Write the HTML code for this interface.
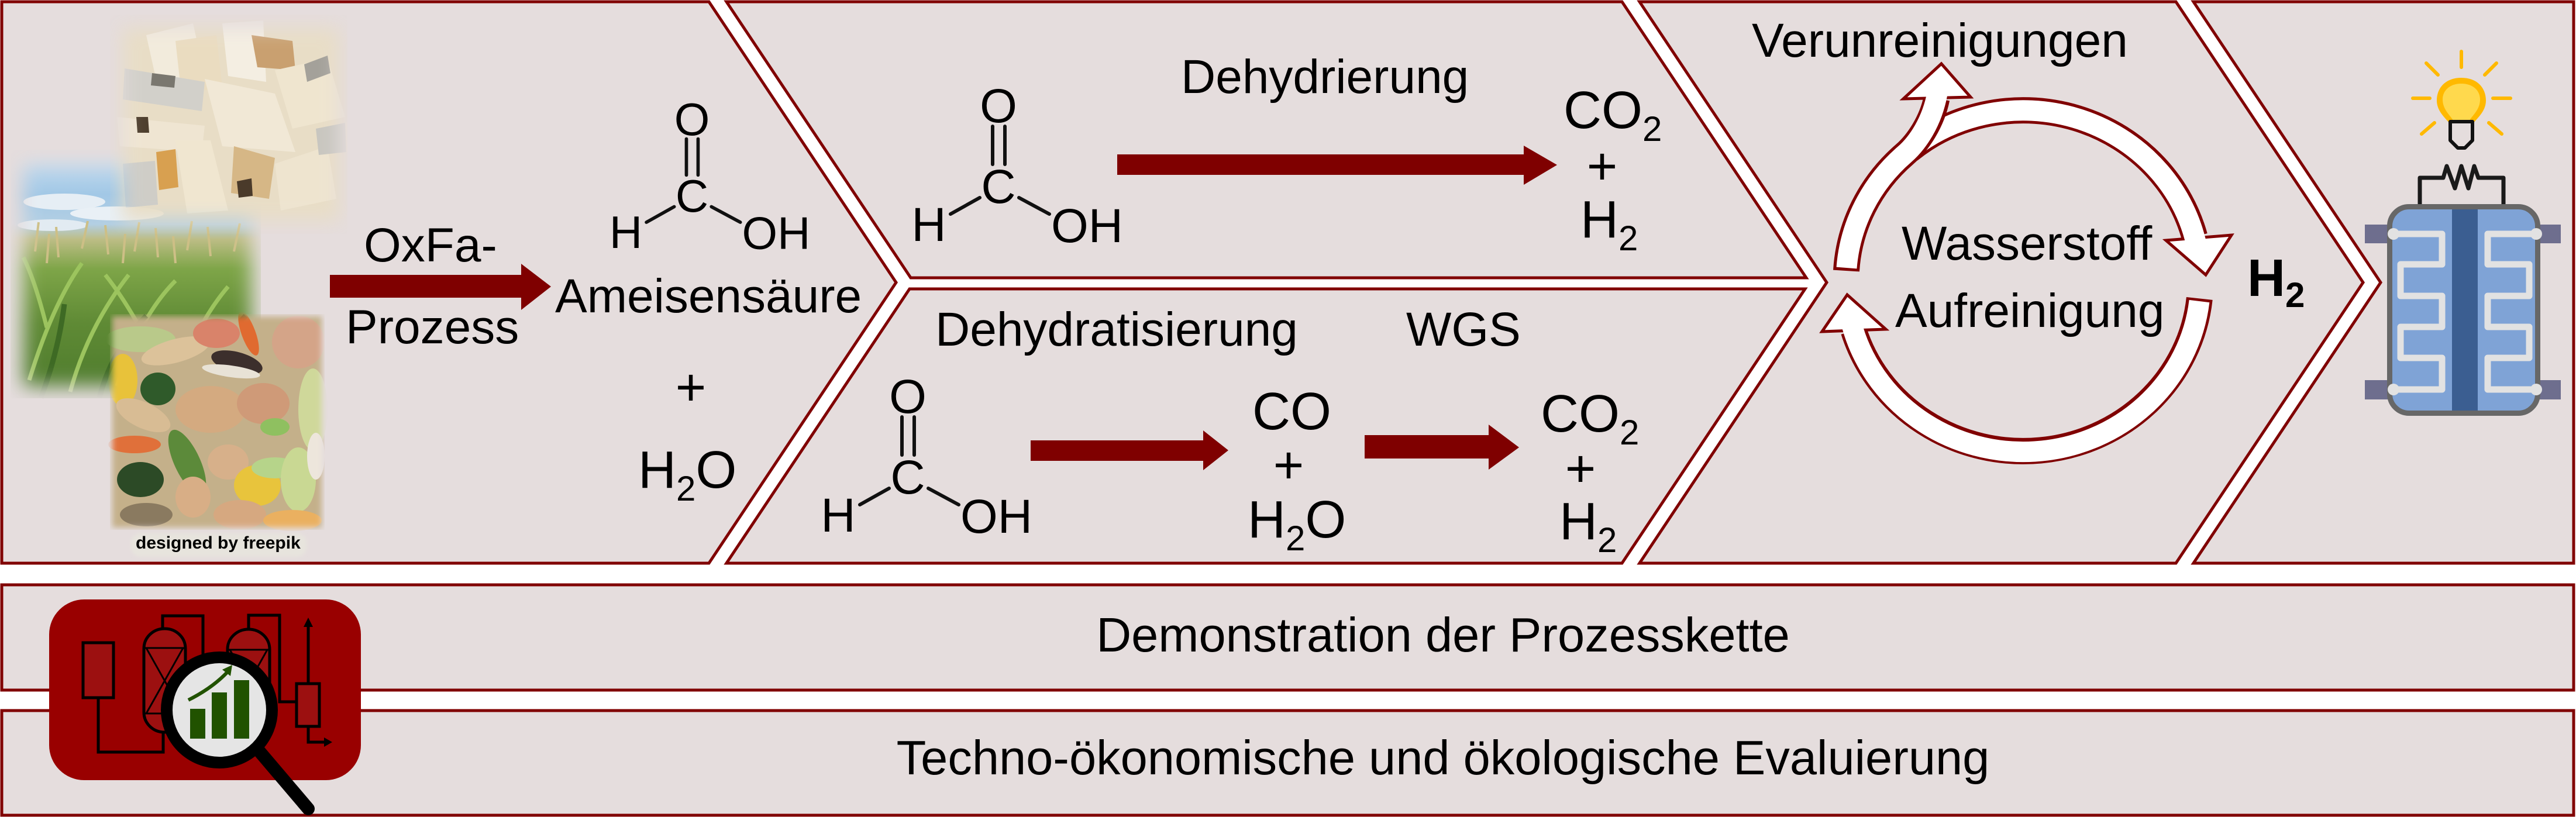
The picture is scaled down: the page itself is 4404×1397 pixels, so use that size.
<!DOCTYPE html>
<html><head><meta charset="utf-8">
<style>
html,body{margin:0;padding:0;background:#fff;}
svg{display:block;}
text{font-family:"Liberation Sans",Arial,sans-serif;fill:#000;}
</style></head>
<body>
<svg width="4404" height="1397" viewBox="0 0 4404 1397" xmlns="http://www.w3.org/2000/svg">
<defs>
<filter id="bl" x="-40%" y="-40%" width="180%" height="180%"><feGaussianBlur stdDeviation="16"/></filter>
<filter id="bl2" x="-40%" y="-40%" width="180%" height="180%"><feGaussianBlur stdDeviation="5"/></filter>
<filter id="bl3" x="-20%" y="-20%" width="140%" height="140%"><feGaussianBlur stdDeviation="3"/></filter>
<mask id="mWood" maskUnits="userSpaceOnUse" x="0" y="0" width="900" height="900"><rect x="210" y="48" width="370" height="330" fill="#fff" filter="url(#bl)"/></mask>
<mask id="mCorn" maskUnits="userSpaceOnUse" x="0" y="0" width="900" height="900"><rect x="40" y="280" width="390" height="380" fill="#fff" filter="url(#bl)"/></mask>
<mask id="mFood" maskUnits="userSpaceOnUse" x="0" y="0" width="900" height="1000"><rect x="192" y="541" width="358" height="361" fill="#fff" filter="url(#bl2)"/></mask>
<linearGradient id="gCorn" x1="0" y1="0" x2="0" y2="1">
<stop offset="0" stop-color="#c9def0"/>
<stop offset="0.18" stop-color="#a2c8e6"/>
<stop offset="0.30" stop-color="#b3cfe3"/>
<stop offset="0.36" stop-color="#bdbd86"/>
<stop offset="0.48" stop-color="#7ea548"/>
<stop offset="0.70" stop-color="#5f8a35"/>
<stop offset="1" stop-color="#4c7a2c"/>
</linearGradient>
<g id="fa">
<text x="0" y="-138" text-anchor="middle" font-size="82" fill="#111">O</text>
<text x="0" y="0" text-anchor="middle" font-size="82" fill="#111">C</text>
<text x="-119" y="65" text-anchor="middle" font-size="82" fill="#111">H</text>
<text x="90" y="67" font-size="82" fill="#111">OH</text>
<g stroke="#111" stroke-width="6" stroke-linecap="round">
<line x1="-10" y1="-131" x2="-10" y2="-66"/>
<line x1="11" y1="-131" x2="11" y2="-66"/>
<line x1="-82" y1="19" x2="-32" y2="-9"/>
<line x1="35" y1="-9" x2="87" y2="19"/>
</g>
</g>
</defs>

<!-- top panels -->
<g fill="#e5dddd" stroke="#800000" stroke-width="5" stroke-linejoin="miter">
<polygon points="3,3 1212,3 1532,483 1212,963 3,963"/>
<polygon points="1242,3 2773,3 3088,475 1557,475"/>
<polygon points="1555,494 3086,494 2773,963 1242,963"/>
<polygon points="2803,3 3720,3 4040,483 3720,963 2803,963 3123,483"/>
<polygon points="3750,3 4400,3 4400,963 3750,963 4070,483"/>
</g>

<!-- bottom bars -->
<g fill="#e5dddd" stroke="#800000" stroke-width="5">
<rect x="3" y="1000" width="4397" height="180"/>
<rect x="3" y="1215" width="4397" height="179"/>
</g>
<text x="2467" y="1114" text-anchor="middle" font-size="83">Demonstration der Prozesskette</text>
<text x="2467" y="1324" text-anchor="middle" font-size="83">Techno-ökonomische und ökologische Evaluierung</text>

<!-- photos panel 1 -->
<g mask="url(#mCorn)">
<rect x="18" y="256" width="428" height="425" fill="url(#gCorn)"/>
<ellipse cx="110" cy="345" rx="70" ry="14" fill="#e6eef5"/>
<ellipse cx="200" cy="365" rx="80" ry="12" fill="#e9f0f6"/>
<ellipse cx="90" cy="385" rx="60" ry="10" fill="#e2ebf2"/>
<g stroke="#cdbf86" stroke-width="4">
<line x1="60" y1="430" x2="66" y2="380"/><line x1="100" y1="440" x2="96" y2="388"/><line x1="140" y1="425" x2="150" y2="378"/>
<line x1="185" y1="435" x2="180" y2="385"/><line x1="230" y1="430" x2="238" y2="380"/><line x1="270" y1="440" x2="266" y2="390"/>
<line x1="320" y1="428" x2="328" y2="378"/><line x1="360" y1="438" x2="355" y2="388"/><line x1="400" y1="430" x2="410" y2="382"/>
<line x1="80" y1="450" x2="84" y2="400"/><line x1="210" y1="450" x2="214" y2="400"/><line x1="300" y1="450" x2="296" y2="404"/>
</g>
<g stroke="#9cc45e" stroke-width="7" fill="none">
<path d="M50,650 Q90,520 140,450"/><path d="M120,670 Q150,560 220,470"/><path d="M200,660 Q240,540 300,480"/>
<path d="M300,670 Q330,560 390,490"/><path d="M80,560 Q60,480 40,440"/><path d="M260,600 Q220,520 180,470"/>
</g>
<g stroke="#3e6a24" stroke-width="9" fill="none">
<path d="M70,680 Q100,600 110,520"/><path d="M170,680 Q190,600 250,540"/><path d="M350,680 Q360,600 420,540"/>
</g>
</g>
<g mask="url(#mWood)">
<rect x="188" y="25" width="406" height="375" fill="#e8ddc6"/>
<polygon points="250,60 330,40 350,130 270,150" fill="#f2ebdc"/>
<polygon points="300,70 370,60 380,150 310,160" fill="#eadcc0"/>
<polygon points="213,117 350,140 345,190 210,170" fill="#d2d0ca"/>
<polygon points="260,125 300,130 298,150 258,146" fill="#7a776f"/>
<polygon points="380,40 450,35 455,140 390,130" fill="#f4eee2"/>
<polygon points="430,60 500,70 505,120 440,115" fill="#c9a070"/>
<polygon points="350,135 470,160 505,260 380,250" fill="#f1e8d6"/>
<polygon points="470,120 560,100 590,200 500,220" fill="#efe5cf"/>
<polygon points="200,200 350,215 345,260 205,250" fill="#efe5d2"/>
<polygon points="233,200 253,200 255,227 235,227" fill="#4e3f2e"/>
<polygon points="267,260 300,255 305,320 272,325" fill="#d8a050"/>
<polygon points="300,240 360,240 390,360 320,365" fill="#f0e6d0"/>
<polygon points="210,280 265,275 270,350 215,355" fill="#cfcdc7"/>
<polygon points="400,250 470,270 460,340 395,330" fill="#d6b786"/>
<polygon points="470,280 560,250 575,340 480,360" fill="#eee4cf"/>
<polygon points="405,310 430,305 432,335 408,338" fill="#4a3a2a"/>
<polygon points="520,110 560,95 565,125 525,140" fill="#a4a19a"/>
<polygon points="540,220 590,210 592,260 545,265" fill="#c8c6bf"/>
</g>
<g mask="url(#mFood)">
<rect x="188" y="537" width="367" height="369" fill="#c4b08a"/>
<ellipse cx="240" cy="580" rx="60" ry="22" fill="#b9c98a"/>
<ellipse cx="300" cy="600" rx="60" ry="20" fill="#dcc29a" transform="rotate(-15 300 600)"/>
<ellipse cx="370" cy="570" rx="40" ry="25" fill="#d9836a"/>
<ellipse cx="425" cy="570" rx="12" ry="40" fill="#e06a30" transform="rotate(-20 425 570)"/>
<ellipse cx="510" cy="585" rx="45" ry="45" fill="#d4a488"/>
<ellipse cx="405" cy="620" rx="45" ry="18" fill="#3c2f2c" transform="rotate(15 405 620)"/>
<ellipse cx="395" cy="635" rx="50" ry="10" fill="#e8e2d6" transform="rotate(8 395 635)"/>
<ellipse cx="210" cy="650" rx="25" ry="45" fill="#e8c23a"/>
<ellipse cx="270" cy="665" rx="30" ry="28" fill="#2f5a2a"/>
<ellipse cx="245" cy="710" rx="50" ry="22" fill="#d8bc94" transform="rotate(25 245 710)"/>
<ellipse cx="360" cy="700" rx="60" ry="40" fill="#d4aa80"/>
<ellipse cx="450" cy="690" rx="45" ry="35" fill="#cf9a78"/>
<ellipse cx="535" cy="700" rx="25" ry="70" fill="#cfd89a"/>
<ellipse cx="470" cy="730" rx="25" ry="15" fill="#8fc060"/>
<ellipse cx="230" cy="760" rx="45" ry="15" fill="#e0703a"/>
<ellipse cx="320" cy="790" rx="22" ry="60" fill="#5c8a3a" transform="rotate(-25 320 790)"/>
<ellipse cx="240" cy="820" rx="40" ry="30" fill="#2c4a26"/>
<ellipse cx="390" cy="790" rx="35" ry="30" fill="#d7b08a"/>
<ellipse cx="440" cy="830" rx="40" ry="35" fill="#e8c43c"/>
<ellipse cx="470" cy="800" rx="40" ry="18" fill="#b6d48a"/>
<ellipse cx="510" cy="820" rx="30" ry="55" fill="#c9d893"/>
<ellipse cx="330" cy="850" rx="30" ry="35" fill="#d8ae86"/>
<ellipse cx="410" cy="880" rx="45" ry="25" fill="#d6a880"/>
<ellipse cx="250" cy="880" rx="45" ry="20" fill="#8a7a60"/>
<ellipse cx="500" cy="890" rx="50" ry="18" fill="#eab060"/>
<ellipse cx="540" cy="780" rx="15" ry="40" fill="#ede6dc"/>
</g>
<rect x="224" y="912" width="300" height="40" rx="16" fill="#e7e4dd" filter="url(#bl3)"/>
<text x="232" y="938" font-size="30" font-weight="bold">designed by freepik</text>

<!-- panel 1 text -->
<polygon points="564,470 891,470 891,451 942,490 891,530 891,509 564,509" fill="#7f0000"/>
<text x="622" y="447" font-size="82">OxFa-</text>
<text x="591" y="587" font-size="82">Prozess</text>
<text x="949" y="534" font-size="82">Ameisensäure</text>
<use href="#fa" transform="translate(1183,362) scale(0.95)"/>
<text x="1181" y="693" text-anchor="middle" font-size="90">+</text>
<text x="1091" y="834" font-size="90">H<tspan font-size="60" dy="22">2</tspan><tspan dy="-22">O</tspan></text>

<!-- panel 2 upper -->
<use href="#fa" transform="translate(1707,347)"/>
<text x="2019" y="159" font-size="82">Dehydrierung</text>
<polygon points="1910,264 2605,264 2605,249 2662,282 2605,316 2605,299 1910,299" fill="#7f0000"/>
<text x="2673" y="219" font-size="90">CO<tspan font-size="60" dy="22">2</tspan></text>
<text x="2739" y="315" text-anchor="middle" font-size="90">+</text>
<text x="2702" y="406" font-size="90">H<tspan font-size="60" dy="22">2</tspan></text>

<!-- panel 2 lower -->
<text x="1599" y="591" font-size="82">Dehydratisierung</text>
<text x="2404" y="591" font-size="82">WGS</text>
<use href="#fa" transform="translate(1552,844)"/>
<polygon points="1762,753 2057,753 2057,736 2100,770 2057,804 2057,788 1762,788" fill="#7f0000"/>
<text x="2141" y="734" font-size="90">CO</text>
<text x="2203" y="826" text-anchor="middle" font-size="90">+</text>
<text x="2133" y="919" font-size="90">H<tspan font-size="60" dy="22">2</tspan><tspan dy="-22">O</tspan></text>
<polygon points="2333,744 2545,744 2545,726 2597,765 2545,803 2545,784 2333,784" fill="#7f0000"/>
<text x="2634" y="738" font-size="90">CO<tspan font-size="60" dy="22">2</tspan></text>
<text x="2702" y="832" text-anchor="middle" font-size="90">+</text>
<text x="2666" y="922" font-size="90">H<tspan font-size="60" dy="22">2</tspan></text>

<!-- panel 3 cycle -->
<text x="2995" y="97" font-size="82">Verunreinigungen</text>
<text x="3251" y="444" font-size="82">Wasserstoff</text>
<text x="3240" y="559" font-size="82">Aufreinigung</text>
<text x="3842" y="506" font-size="90" font-weight="bold">H<tspan font-size="60" dy="19">2</tspan></text>

<g fill="none" stroke-linecap="butt">
<path d="M3264,257 A303,291 0 0 1 3752,405" stroke="#800000" stroke-width="45"/>
<polygon points="3703,411 3815,402 3771,470" fill="#fff" stroke="#800000" stroke-width="5" stroke-linejoin="miter"/>
<path d="M3264,257 A303,291 0 0 1 3755,418" stroke="#fff" stroke-width="35"/>
<path d="M3156.5,463 A303,291 0 0 1 3256,264 C3279,244 3303,208 3311,168" stroke="#800000" stroke-width="45"/>
<polygon points="3254,169 3369,166 3319,109" fill="#fff" stroke="#800000" stroke-width="5" stroke-linejoin="miter"/>
<path d="M3157,458 A303,291 0 0 1 3256,264 C3279,244 3303,208 3312,160" stroke="#fff" stroke-width="35"/>
<path d="M3760.3,510.4 A303,291 0 0 1 3169,565" stroke="#800000" stroke-width="45"/>
<polygon points="3115,567 3224,563 3158,504" fill="#fff" stroke="#800000" stroke-width="5" stroke-linejoin="miter"/>
<path d="M3760,515 A303,291 0 0 1 3165,552" stroke="#fff" stroke-width="35"/>
</g>

<!-- panel 4 fuel cell -->
<g stroke="#ffb900" stroke-width="6" stroke-linecap="round">
<line x1="4208" y1="88" x2="4208" y2="115"/>
<line x1="4125" y1="168" x2="4154" y2="168"/>
<line x1="4262" y1="168" x2="4292" y2="168"/>
<line x1="4148" y1="108" x2="4168" y2="128"/>
<line x1="4248" y1="128" x2="4268" y2="108"/>
<line x1="4140" y1="229" x2="4162" y2="210"/>
<line x1="4255" y1="210" x2="4277" y2="229"/>
</g>
<path d="M4208,133 C4235,133 4250,150 4250,172 C4250,192 4232,204 4228,212 L4188,212 C4184,204 4166,192 4166,172 C4166,150 4181,133 4208,133 Z" fill="#ffb900"/>
<path d="M4208,143 C4228,143 4240,155 4240,170 C4240,188 4226,198 4222,206 L4194,206 C4190,198 4176,188 4176,170 C4176,155 4188,143 4208,143 Z" fill="#ffd94d"/>
<polygon points="4189,208 4227,208 4227,240 4214,253 4202,253 4189,240" fill="#e5dddd" stroke="#111" stroke-width="6" stroke-linejoin="round"/>
<polyline points="4137,352 4137,304 4177,304 4183,284 4197,322 4208,284 4220,322 4230,284 4237,304 4280,304 4280,352" fill="none" stroke="#1a1a1a" stroke-width="7" stroke-linejoin="round"/>
<g fill="#6e6e8e">
<rect x="4043" y="384" width="50" height="32"/>
<rect x="4333" y="384" width="45" height="32"/>
<rect x="4043" y="650" width="50" height="33"/>
<rect x="4333" y="650" width="45" height="33"/>
</g>
<rect x="4085.5" y="353.5" width="253" height="353" rx="33" fill="#7fa3d6" stroke="#676767" stroke-width="9"/>
<rect x="4192" y="358" width="44" height="344" fill="#3b5e91"/>
<g fill="none" stroke="#e2e2e2" stroke-width="11" stroke-linejoin="round">
<polyline points="4092,400 4175,400 4175,452 4104,452 4104,506 4175,506 4175,559 4104,559 4104,612 4175,612 4175,666 4092,666"/>
<polyline points="4336,400 4253,400 4253,452 4324,452 4324,506 4253,506 4253,559 4324,559 4324,612 4253,612 4253,666 4336,666"/>
</g>
<g fill="#e2e2e2">
<circle cx="4092" cy="400" r="10"/><circle cx="4336" cy="400" r="10"/>
<circle cx="4092" cy="666" r="10"/><circle cx="4336" cy="666" r="10"/>
</g>

<!-- bottom icon -->
<rect x="84" y="1025" width="533" height="309" rx="60" fill="#990000"/>
<g stroke="#000" stroke-width="5" fill="none">
<polyline points="168,1193 168,1286 279,1286 279,1252"/>
<polyline points="278,1075 278,1053 347,1053 347,1170"/>
<polyline points="425,1076 425,1052 478,1052 478,1200 507,1200"/>
<line x1="527" y1="1169" x2="527" y2="1068"/>
<polyline points="527,1242 527,1269 556,1269"/>
</g>
<polygon points="527,1056 519,1072 535,1072" fill="#000"/>
<polygon points="568,1269 554,1261 554,1277" fill="#000"/>
<g fill="#9c1010" stroke="#000" stroke-width="5">
<rect x="142" y="1099" width="52" height="94"/>
<rect x="246" y="1075" width="71" height="177" rx="35" ry="34"/>
<rect x="389" y="1076" width="72" height="180" rx="36" ry="34"/>
<rect x="507" y="1169" width="39" height="73"/>
</g>
<g stroke="#000" stroke-width="3">
<line x1="248" y1="1108" x2="315" y2="1108"/><line x1="248" y1="1220" x2="315" y2="1220"/>
<line x1="250" y1="1108" x2="313" y2="1220"/><line x1="313" y1="1108" x2="250" y2="1220"/>
<line x1="391" y1="1111" x2="459" y2="1111"/>
<line x1="393" y1="1111" x2="457" y2="1225"/><line x1="457" y1="1111" x2="393" y2="1225"/>
</g>
<line x1="442" y1="1283" x2="527" y2="1383" stroke="#000" stroke-width="22" stroke-linecap="round"/>
<circle cx="375" cy="1214" r="90" fill="#e5e5e5" stroke="#000" stroke-width="20"/>
<g fill="#215200">
<rect x="325" y="1212" width="26" height="51"/>
<rect x="362" y="1184" width="26" height="79"/>
<rect x="400" y="1163" width="26" height="100"/>
</g>
<path d="M322,1197 Q362,1177 388,1150" fill="none" stroke="#215200" stroke-width="6"/>
<polygon points="397,1137 394,1156 380,1145" fill="#215200"/>
</svg>
</body></html>
